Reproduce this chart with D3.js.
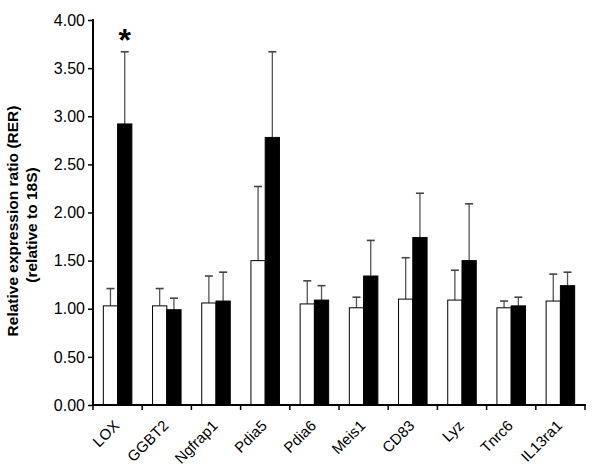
<!DOCTYPE html>
<html><head><meta charset="utf-8">
<script src="https://cdn.jsdelivr.net/npm/d3@7"></script>
<style>body{margin:0;background:#fff}svg{display:block}text{font-family:"Liberation Sans",Arial,sans-serif}</style>
</head><body><svg id="c" width="600" height="474"></svg>
<script>
const categories = ["LOX","GGBT2","Ngfrap1","Pdia5","Pdia6","Meis1","CD83","Lyz","Tnrc6","IL13ra1"];
const controlValues = [1.03,1.03,1.06,1.50,1.05,1.01,1.10,1.09,1.01,1.08];
const controlErrTop = [1.21,1.21,1.34,2.27,1.29,1.12,1.53,1.40,1.08,1.36];
const treatedValues = [2.92,0.99,1.08,2.78,1.09,1.34,1.74,1.50,1.03,1.24];
const treatedErrTop = [3.67,1.11,1.38,3.67,1.24,1.71,2.20,2.09,1.12,1.38];
const yTicks = [0,0.5,1,1.5,2,2.5,3,3.5,4];
const yLabel1 = "Relative expression ratio (RER)";
const yLabel2 = "(relative to 18S)";

(function(){
const svg = d3.select("#c");
const mLeft = 93, mRight = 585, mTop = 20, mBottom = 405;
const x = d3.scaleBand().domain(categories).range([mLeft,mRight]);
const y = d3.scaleLinear().domain([0,4]).range([mBottom,mTop]);
const bw = x.bandwidth()*0.29;

const g = svg.append("g");
categories.forEach((c,i)=>{
  const cx = x(c)+x.bandwidth()/2;
  [[controlValues[i],controlErrTop[i],cx-bw/2],[treatedValues[i],treatedErrTop[i],cx+bw/2]].forEach(([v,e,xc])=>{
    g.append("line").attr("x1",xc).attr("x2",xc).attr("y1",y(v)).attr("y2",y(e)).attr("stroke","#555").attr("stroke-width",1.3);
    g.append("line").attr("x1",xc-4).attr("x2",xc+4).attr("y1",y(e)).attr("y2",y(e)).attr("stroke","#444").attr("stroke-width",1.6);
  });
  g.append("rect").attr("x",cx-bw).attr("y",y(controlValues[i])).attr("width",bw).attr("height",y(0)-y(controlValues[i]))
    .attr("fill","#fff").attr("stroke","#000").attr("stroke-width",1);
  g.append("rect").attr("x",cx).attr("y",y(treatedValues[i])).attr("width",bw).attr("height",y(0)-y(treatedValues[i]))
    .attr("fill","#000").attr("stroke","#000").attr("stroke-width",1);
});

svg.append("text").attr("x",x("LOX")+x.bandwidth()/2+bw/2).attr("y",y(treatedErrTop[0])-1).attr("text-anchor","middle")
  .attr("font-size",32).attr("font-weight","bold").text("*");

const ya = svg.append("g").attr("transform",`translate(${mLeft},0)`)
  .call(d3.axisLeft(y).tickValues(yTicks).tickFormat(d3.format(".2f")).tickSize(5).tickSizeOuter(0));
ya.select(".domain").attr("stroke-width",2).attr("d",`M0,${mTop-1}V${mBottom}`);
ya.selectAll(".tick line").attr("stroke-width",1.5);
ya.selectAll("text").attr("font-size",16).attr("fill","#000").attr("font-family","Liberation Sans, Arial, sans-serif").attr("x",-8);

const xa = svg.append("g").attr("transform",`translate(0,${mBottom})`);
xa.append("line").attr("x1",mLeft).attr("x2",mRight+1).attr("y1",0).attr("y2",0).attr("stroke","#000").attr("stroke-width",2);
const boundaries = categories.map(c=>x(c)).concat([mRight]);
xa.selectAll(".tk").data(boundaries).join("line").attr("x1",d=>d).attr("x2",d=>d).attr("y1",0).attr("y2",5).attr("stroke","#000").attr("stroke-width",1.5);
xa.selectAll(".lb").data(categories).join("text")
  .attr("transform",d=>`translate(${x(d)+x.bandwidth()/2-1},${18}) rotate(-45)`)
  .attr("text-anchor","end").attr("font-size",15).attr("dy","0.35em").text(d=>d);

svg.append("text").attr("transform",`translate(18,${221}) rotate(-90)`).attr("text-anchor","middle")
  .attr("font-size",15.5).attr("font-weight","bold").text(yLabel1);
svg.append("text").attr("transform",`translate(37,${225}) rotate(-90)`).attr("text-anchor","middle")
  .attr("font-size",15.5).attr("font-weight","bold").text(yLabel2);
})();
</script></body></html>
